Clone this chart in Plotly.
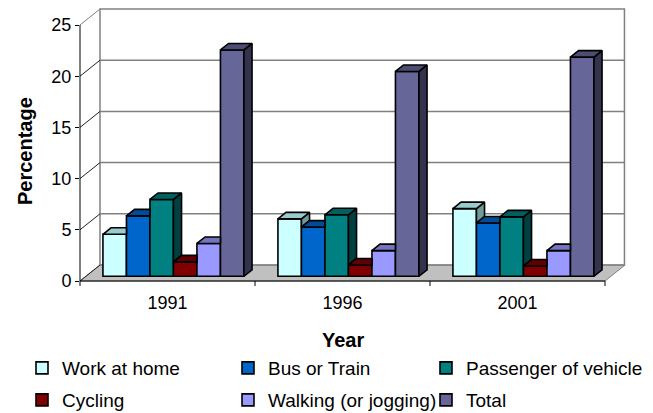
import plotly.graph_objects as go

# ---------------- data ----------------
years = ["1991", "1996", "2001"]
series_names = ["Work at home", "Bus or Train", "Passenger of vehicle",
                "Cycling", "Walking (or jogging)", "Total"]
work_at_home = [4.1, 5.6, 6.6]
bus_or_train = [5.9, 4.8, 5.2]
passenger_of_vehicle = [7.5, 6.0, 5.8]
cycling = [1.4, 1.1, 1.0]
walking = [3.2, 2.5, 2.5]
total = [22.1, 20.0, 21.4]
y_tick_values = [0, 5, 10, 15, 20, 25]

front_colors = ["#CCFFFF", "#0066CC", "#008080", "#800000", "#9999FF", "#666699"]
top_colors = ["#99CCCC", "#004C99", "#006060", "#600000", "#7373BF", "#4D4D73"]
side_colors = ["#6F9A9A", "#003366", "#004040", "#400000", "#4D4D80", "#33334D"]

values = [work_at_home, bus_or_train, passenger_of_vehicle, cycling, walking, total]

# ---------------- geometry (pixel based 3-D look) ----------------
OFF = 8                      # page body margin of the html page
W, H = 653 - OFF, 413 - OFF
L, T = 80 - OFF, 9 - OFF
R = W - (625 - OFF)
B = H - (281 - OFF)
PW, PH = W - L - R, H - T - B
PX_PER_CAT = 175.0
PX_PER_UNIT = 10.24
XR0 = -0.5
XR1 = XR0 + PW / PX_PER_CAT
YR1 = PH / PX_PER_UNIT

back_dx, back_dy = 20 / PX_PER_CAT, 16 / PX_PER_UNIT       # wall depth
bar_xoff, bar_yoff = 5.94 / PX_PER_CAT, 4.75 / PX_PER_UNIT  # bar row position
bar_ddx, bar_ddy = 8.1 / PX_PER_CAT, 6.5 / PX_PER_UNIT      # bar depth
bar_w = 141.0 / PX_PER_CAT / 6
n_cat = len(years)
n_ser = len(series_names)


def xp(x):
    return (x - XR0) / (XR1 - XR0)


def yp(y):
    return y / YR1


def cx(px):   # window pixel -> container fraction
    return (px - OFF) / W


def cy(py):
    return 1 - (py - OFF) / H


fig = go.Figure()

legend_ids = ["legend", "legend2", "legend3", "legend4", "legend5", "legend6"]

# front faces (real bars)
for i in range(n_ser):
    fig.add_trace(go.Bar(
        x=[c + bar_xoff for c in range(n_cat)],
        y=values[i],
        base=[bar_yoff] * n_cat,
        width=bar_w,
        offset=-3 * bar_w + i * bar_w,
        name=series_names[i],
        marker=dict(color=front_colors[i], line=dict(color="black", width=1.6)),
        legend=legend_ids[i],
        hovertemplate=series_names[i] + " %{customdata}: %{y}<extra></extra>",
        customdata=years,
    ))

# top and side faces, clipped against the next bar in the row
tops = [([], []) for _ in range(n_ser)]
sides = [([], []) for _ in range(n_ser)]
slope = bar_ddy / bar_ddx
for c in range(n_cat):
    for i in range(n_ser):
        x0 = c + bar_xoff - 3 * bar_w + i * bar_w
        x1 = x0 + bar_w
        tk = bar_yoff + values[i][c]
        tn = bar_yoff + values[i + 1][c] if i < n_ser - 1 else None
        if tn is None or tn <= tk:
            poly = [(x0, tk), (x1, tk), (x1 + bar_ddx, tk + bar_ddy), (x0 + bar_ddx, tk + bar_ddy)]
        elif tn >= tk + bar_ddy:
            poly = [(x0, tk), (x1, tk), (x1, tk + bar_ddy), (x0 + bar_ddx, tk + bar_ddy)]
        else:
            poly = [(x0, tk), (x1, tk), (x1, tn),
                    (x1 + (tk + bar_ddy - tn) / slope, tk + bar_ddy),
                    (x0 + bar_ddx, tk + bar_ddy)]
        poly.append(poly[0])
        tops[i][0].extend([p[0] for p in poly] + [None])
        tops[i][1].extend([p[1] for p in poly] + [None])
        if tn is None or tn < tk:
            low = bar_yoff if tn is None else tn
            sp = [(x1, low), (x1, tk), (x1 + bar_ddx, tk + bar_ddy), (x1 + bar_ddx, low + bar_ddy), (x1, low)]
            sides[i][0].extend([p[0] for p in sp] + [None])
            sides[i][1].extend([p[1] for p in sp] + [None])

for i in range(n_ser):
    for (xs, ys), col in ((sides[i], side_colors[i]), (tops[i], top_colors[i])):
        if xs:
            fig.add_trace(go.Scatter(
                x=xs, y=ys, mode="lines", fill="toself", fillcolor=col,
                line=dict(color="black", width=1.6), showlegend=False,
                hoverinfo="skip"))

# ---------------- walls, floor, axes (structure) ----------------
shapes = []
grid_col = "#808080"
# floor
fx = [XR0, 2.5, 2.5 + back_dx, XR0 + back_dx]
fy = [0, 0, back_dy, back_dy]
path = "M " + " L ".join(f"{xp(a):.5f},{yp(b):.5f}" for a, b in zip(fx, fy)) + " Z"
shapes.append(dict(type="path", xref="paper", yref="paper", path=path,
                   fillcolor="#C0C0C0", line=dict(color=grid_col, width=1), layer="below"))
# back wall gridlines and border
for v in y_tick_values[1:-1]:
    shapes.append(dict(type="line", xref="paper", yref="paper",
                       x0=xp(XR0 + back_dx), x1=xp(2.5 + back_dx),
                       y0=yp(v + back_dy), y1=yp(v + back_dy),
                       line=dict(color=grid_col, width=1.5), layer="below"))
shapes.append(dict(type="rect", xref="paper", yref="paper",
                   x0=xp(XR0 + back_dx), x1=xp(2.5 + back_dx) - 0.001,
                   y0=yp(back_dy), y1=yp(25 + back_dy),
                   line=dict(color=grid_col, width=1.5), layer="below"))
# side wall diagonals
for v in y_tick_values:
    shapes.append(dict(type="line", xref="paper", yref="paper",
                       x0=xp(XR0), x1=xp(XR0 + back_dx), y0=yp(v), y1=yp(v + back_dy),
                       line=dict(color=grid_col if v == 25 else "#202020", width=1), layer="below"))
# front value axis and category axis
shapes.append(dict(type="line", xref="paper", yref="paper", x0=xp(XR0), x1=xp(XR0),
                   y0=yp(0), y1=yp(25), line=dict(color="black", width=1)))
shapes.append(dict(type="line", xref="paper", yref="paper", x0=xp(XR0), x1=xp(2.5),
                   y0=yp(0), y1=yp(0), line=dict(color="black", width=1)))
for b in [XR0 + k for k in range(n_cat + 1)]:
    shapes.append(dict(type="line", xref="paper", yref="paper", x0=xp(b), x1=xp(b),
                       y0=0, y1=-5 / PH, line=dict(color="black", width=1)))

FONT = "Liberation Sans, Arial, sans-serif"
legend_common = dict(orientation="h", xref="container", yref="container",
                     xanchor="left", yanchor="middle", bgcolor="rgba(0,0,0,0)",
                     font=dict(family=FONT, size=19, color="black"))
# legend text starts (window px) per column, row centres (window px)
legend_text_x = [62, 268, 466]
legend_row_y = [368, 400]
legend_layout = {}
for i, lid in enumerate(legend_ids):
    col, row = i % 3, i // 3
    legend_layout[lid] = dict(x=cx(legend_text_x[col] - 40), y=cy(legend_row_y[row]),
                              **legend_common)

fig.update_layout(
    width=W, height=H,
    margin=dict(l=L, r=R, t=T, b=B, pad=0),
    paper_bgcolor="white", plot_bgcolor="rgba(0,0,0,0)",
    barmode="overlay",
    font=dict(family=FONT, color="black"),
    xaxis=dict(range=[XR0, XR1], tickvals=list(range(n_cat)), ticktext=years,
               ticks="", showgrid=False, zeroline=False, showline=False,
               tickfont=dict(size=18, family=FONT, color="black"),
               ticklabelstandoff=9, fixedrange=True),
    yaxis=dict(range=[0, YR1], tickvals=y_tick_values, ticks="outside", ticklen=4,
               tickcolor="black", showgrid=False, zeroline=False, showline=False,
               tickfont=dict(size=18, family=FONT, color="black"), fixedrange=True),
    shapes=shapes,
    annotations=[
        dict(text="<b>Percentage</b>", xref="paper", yref="paper",
             x=(25 - 80) / PW, y=(281 - 151) / PH, textangle=-90, showarrow=False,
             font=dict(size=20, family=FONT, color="black"),
             xanchor="center", yanchor="middle"),
        dict(text="<b>Year</b>", xref="paper", yref="paper",
             x=(343 - 80) / PW, y=(281 - 340) / PH, showarrow=False,
             font=dict(size=20, family=FONT, color="black"),
             xanchor="center", yanchor="middle"),
    ],
    showlegend=True,
    **legend_layout,
)

fig.write_html("out.html")
